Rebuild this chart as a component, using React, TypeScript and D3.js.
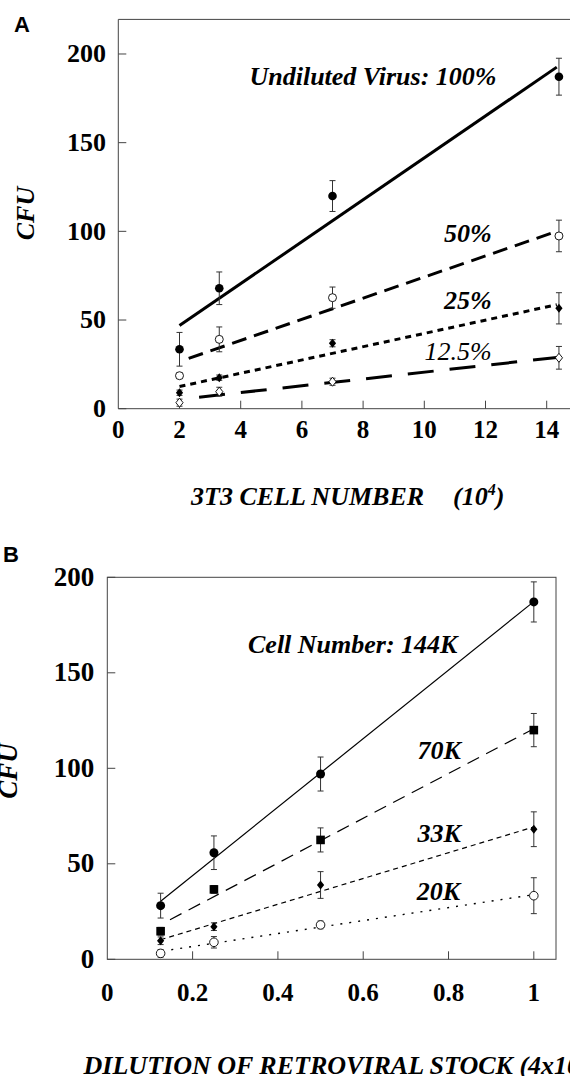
import * as d3 from "d3";

// ---- panel A: CFU vs 3T3 cell number (10^4), one series per virus dilution
const cellNumbers = [2, 3.3, 7, 14.4];
const dilutionNames = ["Undiluted Virus: 100%", "50%", "25%", "12.5%"];
const cfu100 = [33.5, 67.9, 119.9, 187.2];
const cfu50 = [18.6, 39.1, 62.6, 97.4];
const cfu25 = [9.0, 17.5, 36.9, 56.6];
const cfu12 = [3.4, 9.6, 15.2, 28.7];
const err100 = [9.5, 9.2, 8.7, 10.4];
const err50 = [1.5, 7, 6, 8.9];
const err25 = [1.5, 1.5, 2, 8.8];
const err12 = [2, 2.5, 2, 6.4];
const ticksAx = [0, 2, 4, 6, 8, 10, 12, 14];
const ticksAy = [0, 50, 100, 150, 200];

// ---- panel B: CFU vs dilution of retroviral stock, one series per cell number
const dilutions = [0.125, 0.25, 0.5, 1];
const cellNames = ["Cell Number: 144K", "70K", "33K", "20K"];
const cfu144k = [28.1, 55.8, 97.0, 187.1];
const cfu70k = [14.7, 36.6, 62.5, 120.0];
const cfu33k = [9.7, 17.1, 38.9, 68.1];
const cfu20k = [3.1, 8.9, 18.0, 33.3];
const err144k = [6.5, 8.8, 8.9, 10.5];
const err70k = [2, 2, 6.3, 8.7];
const err33k = [2, 2, 7, 9.1];
const err20k = [2, 3, 2, 9.4];
const ticksBx = [0, 0.2, 0.4, 0.6, 0.8, 1];
const ticksBy = [0, 50, 100, 150, 200];

const SERIF = "'Liberation Serif', 'Times New Roman', serif";
const SANS = "'Liberation Sans', Arial, sans-serif";

// least squares line through the points
function fit(xs: number[], ys: number[]) {
  const mx = d3.mean(xs)!;
  const my = d3.mean(ys)!;
  let sxy = 0;
  let sxx = 0;
  xs.forEach((x, i) => {
    sxy += (x - mx) * (ys[i] - my);
    sxx += (x - mx) * (x - mx);
  });
  const b = sxy / sxx;
  return (x: number) => my + b * (x - mx);
}

function Marker({ shape, x, y, s }: { shape: string; x: number; y: number; s: number }) {
  if (shape === "dot") return <circle cx={x} cy={y} r={s} fill="#000" />;
  if (shape === "ring") return <circle cx={x} cy={y} r={s} fill="#fff" stroke="#000" strokeWidth={0.9} />;
  if (shape === "square") return <rect x={x - s} y={y - s} width={2 * s} height={2 * s} fill="#000" />;
  const pts = `${x},${y - s} ${x + s * 0.8},${y} ${x},${y + s} ${x - s * 0.8},${y}`;
  if (shape === "diamond") return <polygon points={pts} fill="#000" />;
  return <polygon points={pts} fill="#fff" stroke="#000" strokeWidth={0.9} />;
}

type Series = {
  name: string;
  ys: number[];
  err: number[];
  shape: string;
  size: number;
  dash: string;
  width: number;
  from: number;
  to: number;
  labelAt: [number, number];
  weight: string;
};

function Panel({
  xs, series, x, y, xTicks, yTicks, xFmt, xLabelDy, yLabelGap, yFont, box,
}: {
  xs: number[];
  series: Series[];
  x: d3.ScaleLinear<number, number>;
  y: d3.ScaleLinear<number, number>;
  xTicks: number[];
  yTicks: number[];
  xFmt: (v: number) => string;
  xLabelDy: number;
  yLabelGap: number;
  yFont: number;
  box: boolean;
}) {
  const [x0, x1] = x.range();
  const [y0, y1] = y.range();
  return (
    <g>
      {/* frame */}
      {box ? (
        <rect x={x0} y={y1} width={x1 - x0} height={y0 - y1} fill="none" stroke="#444" strokeWidth={1} />
      ) : (
        <path d={`M${x1},${y1}H${x0}V${y0}H${x1}`} fill="none" stroke="#444" strokeWidth={1} />
      )}
      {/* ticks */}
      {yTicks.map((t) => (
        <g key={"y" + t}>
          <line x1={x0} x2={x0 + 8} y1={y(t)} y2={y(t)} stroke="#444" />
          <text x={x0 - yLabelGap} y={y(t)} dy="0.32em" textAnchor="end" fontFamily={SERIF} fontWeight="bold" fontSize={yFont}>
            {t}
          </text>
        </g>
      ))}
      {xTicks.map((t) => (
        <g key={"x" + t}>
          {t > 0 && <line x1={x(t)} x2={x(t)} y1={y0} y2={y0 - 8} stroke="#444" />}
          <text x={x(t)} y={y0 + xLabelDy} textAnchor="middle" fontFamily={SERIF} fontWeight="bold" fontSize={25}>
            {xFmt(t)}
          </text>
        </g>
      ))}
      {/* fitted lines */}
      {series.map((s) => {
        const f = fit(xs, s.ys);
        return (
          <line
            key={"l" + s.name}
            x1={x(s.from)}
            y1={y(f(s.from))}
            x2={x(s.to)}
            y2={y(f(s.to))}
            stroke="#000"
            strokeWidth={s.width}
            strokeDasharray={s.dash}
          />
        );
      })}
      {/* error bars and markers */}
      {series.map((s) =>
        s.ys.map((v, i) => {
          const cx = x(xs[i]);
          const lo = y(v - s.err[i]);
          const hi = y(v + s.err[i]);
          return (
            <g key={s.name + i}>
              <path d={`M${cx},${lo}V${hi}M${cx - 3},${lo}H${cx + 3}M${cx - 3},${hi}H${cx + 3}`} stroke="#333" strokeWidth={1} fill="none" />
              <Marker shape={s.shape} x={cx} y={y(v)} s={s.size} />
            </g>
          );
        })
      )}
      {/* series labels */}
      {series.map((s) => (
        <text
          key={"t" + s.name}
          x={x(s.labelAt[0])}
          y={y(s.labelAt[1])}
          textAnchor="end"
          fontFamily={SERIF}
          fontStyle="italic"
          fontWeight={s.weight}
          fontSize={26}
        >
          {s.name}
        </text>
      ))}
    </g>
  );
}

export default function App() {
  const xA = d3.scaleLinear().domain([0, 15]).range([118.3, 577.3]);
  const yA = d3.scaleLinear().domain([0, 219.5]).range([408.7, 19.4]);
  const xB = d3.scaleLinear().domain([0, 1.052]).range([107.3, 556]);
  const yB = d3.scaleLinear().domain([0, 200]).range([959.3, 577.3]);

  const seriesA: Series[] = [
    { name: dilutionNames[0], ys: cfu100, err: err100, shape: "dot", size: 4.3, dash: "", width: 3, from: 2, to: 14.33, labelAt: [12.36, 182.5], weight: "bold" },
    { name: dilutionNames[1], ys: cfu50, err: err50, shape: "ring", size: 4, dash: "15 8", width: 3, from: 2.3, to: 14.33, labelAt: [12.2, 94.1], weight: "bold" },
    { name: dilutionNames[2], ys: cfu25, err: err25, shape: "diamond", size: 4.5, dash: "6 5", width: 3, from: 2, to: 14.33, labelAt: [12.2, 56.0], weight: "bold" },
    { name: dilutionNames[3], ys: cfu12, err: err12, shape: "odiamond", size: 4.5, dash: "26 16", width: 3, from: 2.64, to: 14.33, labelAt: [12.2, 27.5], weight: "normal" },
  ];
  const seriesB: Series[] = [
    { name: cellNames[0], ys: cfu144k, err: err144k, shape: "dot", size: 4.5, dash: "", width: 1.2, from: 0.125, to: 1, labelAt: [0.821, 160.4], weight: "bold" },
    { name: cellNames[1], ys: cfu70k, err: err70k, shape: "square", size: 4.3, dash: "13 8", width: 1.2, from: 0.147, to: 1, labelAt: [0.829, 104.7], weight: "bold" },
    { name: cellNames[2], ys: cfu33k, err: err33k, shape: "diamond", size: 4.5, dash: "5 4", width: 1.2, from: 0.125, to: 1, labelAt: [0.829, 61.6], weight: "bold" },
    { name: cellNames[3], ys: cfu20k, err: err20k, shape: "ring", size: 4.3, dash: "2 7", width: 1.4, from: 0.15, to: 1, labelAt: [0.827, 31.0], weight: "bold" },
  ];

  return (
    <svg
      width={570}
      height={1076}
      style={{ position: "absolute", left: 0, top: 0, background: "#fff", display: "block" }}
    >
      <rect width={570} height={1076} fill="#fff" />
      {/* panel A */}
      <text x={14} y={32} fontFamily={SANS} fontWeight="bold" fontSize={22}>A</text>
      <text
        transform="translate(33.5,213.5) rotate(-90)"
        textAnchor="middle"
        fontFamily={SERIF}
        fontStyle="italic"
        fontWeight="bold"
        fontSize={26}
      >
        CFU
      </text>
      <Panel
        xs={cellNumbers}
        series={seriesA}
        x={xA}
        y={yA}
        xTicks={ticksAx}
        yTicks={ticksAy}
        xFmt={(v) => String(v)}
        xLabelDy={29.6}
        yLabelGap={12.3}
        yFont={26}
        box={false}
      />
      <text y={505} fontFamily={SERIF} fontStyle="italic" fontWeight="bold" fontSize={26}>
        <tspan x={191}>3T3 CELL NUMBER</tspan>
        <tspan x={453}>(10</tspan>
        <tspan dy={-10} fontSize={16}>4</tspan>
        <tspan dy={10}>)</tspan>
      </text>

      {/* panel B */}
      <text x={3} y={562} fontFamily={SANS} fontWeight="bold" fontSize={22}>B</text>
      <text
        transform="translate(16.5,771) rotate(-90)"
        textAnchor="middle"
        fontFamily={SERIF}
        fontStyle="italic"
        fontWeight="bold"
        fontSize={27}
      >
        CFU
      </text>
      <Panel
        xs={dilutions}
        series={seriesB}
        x={xB}
        y={yB}
        xTicks={ticksBx}
        yTicks={ticksBy}
        xFmt={(v) => (v === 0 || v === 1 ? String(v) : d3.format(".1f")(v))}
        xLabelDy={41.4}
        yLabelGap={13}
        yFont={27}
        box={true}
      />
      <text x={83.6} y={1074} fontFamily={SERIF} fontStyle="italic" fontWeight="bold" fontSize={26}>
        DILUTION OF RETROVIRAL STOCK (4x10
      </text>
    </svg>
  );
}
